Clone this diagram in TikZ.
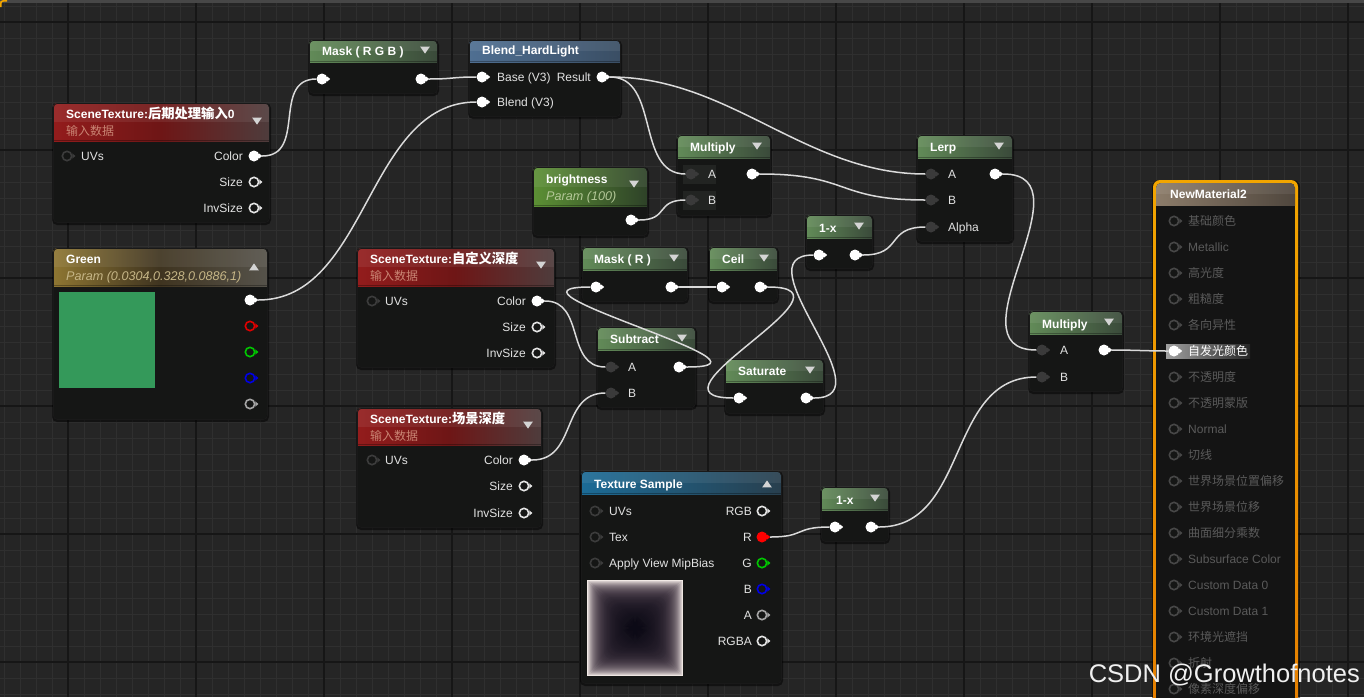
\documentclass[tikz,border=0pt]{standalone}
\usepackage{fontspec}
\setmainfont{Liberation Sans}
\newfontfamily\cjk{Noto Sans CJK SC}
\usetikzlibrary{calc}
\definecolor{bgc}{HTML}{252525}
\definecolor{gminor}{HTML}{2F2F2F}
\definecolor{gmajor}{HTML}{161616}
\definecolor{bodyc}{HTML}{151615}
\definecolor{nmbody}{HTML}{141414}
\definecolor{wirec}{HTML}{DADADA}
\definecolor{lblc}{HTML}{E2E2E2}
\definecolor{tric}{HTML}{D4D4D4}
\definecolor{grnL}{HTML}{628B58}
\definecolor{grnR}{HTML}{3A4A3A}
\definecolor{brL}{HTML}{5C9034}
\definecolor{brR}{HTML}{2E4228}
\definecolor{redL}{HTML}{931C1C}
\definecolor{redM}{HTML}{6E1616}
\definecolor{redR}{HTML}{4E3C3C}
\definecolor{goldL}{HTML}{8E7632}
\definecolor{goldM}{HTML}{3F3420}
\definecolor{goldR}{HTML}{55524A}
\definecolor{bluL}{HTML}{4F6F92}
\definecolor{bluR}{HTML}{3A4E64}
\definecolor{texL}{HTML}{1C6B96}
\definecolor{texR}{HTML}{283F4E}
\definecolor{nmL}{HTML}{8C7C6A}
\definecolor{nmR}{HTML}{4F463D}
\definecolor{subRed}{HTML}{C98473}
\definecolor{subGold}{HTML}{C6B687}
\definecolor{subGrn}{HTML}{B4C898}
\definecolor{dimc}{HTML}{5A5A5A}
\definecolor{dimpin}{HTML}{474747}
\definecolor{inpin}{HTML}{3C3C3C}
\definecolor{cpin}{HTML}{3A3A3A}
\definecolor{pinwhite}{HTML}{E4E4E4}
\definecolor{pinred}{HTML}{E00000}
\definecolor{pingreen}{HTML}{00C800}
\definecolor{pinblue}{HTML}{0000E6}
\definecolor{pingrey}{HTML}{A6A6A6}
\definecolor{orT}{HTML}{F2A500}
\definecolor{orB}{HTML}{E47C00}
\definecolor{swatch}{HTML}{34995A}
\definecolor{texlight}{HTML}{F2EAE6}
\definecolor{texmid}{HTML}{6E5666}
\definecolor{texdark}{HTML}{04040F}
\definecolor{hlL}{HTML}{A0A0A0}
\definecolor{hlR}{HTML}{262626}
\definecolor{rowhl}{HTML}{222422}
\newcommand{\cjkt}[1]{{\cjk\fontsize{13.3}{15}\selectfont #1}}
\tikzset{
  wire/.style={draw=wirec, line width=1.5pt},
  ttl/.style={anchor=base west, inner sep=0, text=white, font=\bfseries\fontsize{12}{14}\selectfont, yshift=-4.3pt},
  lbl/.style={anchor=base west, inner sep=0, text=lblc, font=\fontsize{12}{14}\selectfont, yshift=-4.3pt},
  lblr/.style={lbl, anchor=base east},
  subi/.style={anchor=base west, inner sep=0, font=\itshape\fontsize{12.6}{14}\selectfont, yshift=-4.3pt},
  subr/.style={anchor=base west, inner sep=0, text=subRed, font=\fontsize{12}{14}\selectfont, yshift=-4.3pt},
  pinf/.style={circle, inner sep=0, minimum size=11pt},
  pinr/.style={circle, inner sep=0, minimum size=9.4pt, line width=1.6pt, fill=bodyc},
  nodebox/.style={draw=black!90, line width=0.8pt, rounded corners=4pt, inner sep=0},
}
\newcommand{\ueNode}[7]{%
  \fill[black,opacity=.5,rounded corners=5pt] (#2-1,#3) rectangle (#4+2,#5+3);
  \begin{scope}
    \clip[rounded corners=4pt] (#2,#3) rectangle (#4,#5);
    \fill[bodyc] (#2,#3) rectangle (#4,#5);
    \shade[#7] (#2,#3) rectangle (#4,#6);
    \fill[white,opacity=.07] (#2,#3) rectangle (#4,{(#3+#6)/2});
    \fill[black,opacity=.3] (#2,#6-1) rectangle (#4,#6);
  \end{scope}
  \node[nodebox, anchor=north west, minimum width={(#4-#2)*1pt}, minimum height={(#5-#3)*1pt}] (#1) at (#2,#3) {};
}
\newcommand{\uePinF}[4]{%
  \node[pinf, fill=#4] (#1) at (#2,#3) {};
  \fill[#4] (#2+5,#3-2.6) -- (#2+8.2,#3) -- (#2+5,#3+2.6) -- cycle;}
\newcommand{\uePinR}[4]{%
  \node[pinr, draw=#4] (#1) at (#2,#3) {};
  \fill[#4] (#2+5.4,#3-2.6) -- (#2+8.4,#3) -- (#2+5.4,#3+2.6) -- cycle;}
\newcommand{\ueTriD}[2]{\fill[tric] (#1-4.8,#2-3.3) -- (#1+4.8,#2-3.3) -- (#1,#2+3.6) -- cycle;}
\newcommand{\ueTriU}[2]{\fill[tric] (#1-4.8,#2+3.3) -- (#1+4.8,#2+3.3) -- (#1,#2-3.6) -- cycle;}
\newcommand{\ueWire}[3]{\draw[wire] ([xshift=2.5pt]#1.east) .. controls +(#3,0) and +(-#3,0) .. (#2.west);}
\begin{document}
\begin{tikzpicture}[x=1pt,y=-1pt]
\useasboundingbox (0,0) rectangle (1364,697);
\clip (0,0) rectangle (1364,697);
% background grid
\fill[bgc] (0,0) rectangle (1364,697);
\foreach \x in {4,20,...,1364} \draw[gminor, line width=1pt] (\x,0) -- (\x,697);
\foreach \y in {6,22,...,697} \draw[gminor, line width=1pt] (0,\y) -- (1364,\y);
\foreach \x in {68,196,...,1364} \draw[gmajor, line width=2pt] (\x,0) -- (\x,697);
\foreach \y in {22,150,...,697} \draw[gmajor, line width=2pt] (0,\y) -- (1364,\y);
\fill[black!72] (0,0) rectangle (1364,3);
\draw[orT, line width=1.6pt] (0.8,7) -- (0.8,4) .. controls (0.8,1.5) .. (3.5,0.8) -- (7,0.8);

% ---- SceneTexture: post process input 0
\ueNode{st1}{53}{103}{269}{222}{141}{left color=redL, right color=redR, middle color=redM}
\node[ttl] (st1t) at (66,114) {SceneTexture:\cjkt{后期处理输入}0};
\node[subr] (st1st) at (66,131) {{\cjk 输入数据}};
\ueTriD{257}{121}
\uePinR{st1uv}{67}{156}{inpin}
\node[lbl] (st1l1) at (81,156) {UVs};
\uePinF{st1c}{254}{156}{white}
\node[lblr] (st1l2) at (243,156) {Color};
\uePinR{st1s}{254}{182}{pinwhite}
\node[lblr] (st1l3) at (243,182) {Size};
\uePinR{st1i}{254}{208}{pinwhite}
\node[lblr] (st1l4) at (243,208) {InvSize};

% ---- Mask (RGB)
\ueNode{mrgb}{309}{40}{437}{93}{62}{left color=grnL, right color=grnR}
\node[ttl] (mrgbt) at (322,51) {Mask ( R G B )};
\ueTriD{425}{50}
\uePinF{mrgbi}{322}{79}{white}
\uePinF{mrgbo}{421}{79}{white}

% ---- Blend_HardLight
\ueNode{blend}{469}{40}{620}{116}{62}{left color=bluL, right color=bluR}
\node[ttl] (blendt) at (482,50) {Blend\_HardLight};
\uePinF{blb}{482}{77}{white}
\node[lbl] (blendl1) at (497,77) {Base (V3)};
\uePinF{blr}{602}{77}{white}
\node[lblr] (blendl2) at (591,77) {Result};
\uePinF{blbl}{482}{102}{white}
\node[lbl] (blendl3) at (497,102) {Blend (V3)};

% ---- Green parameter
\ueNode{green}{53}{248}{267}{419}{286}{left color=goldL, right color=goldR, middle color=goldM}
\node[ttl] (greent) at (66,259) {Green};
\node[subi, text=subGold] (greenst) at (66,276) {Param (0.0304,0.328,0.0886,1)};
\ueTriU{254}{267}
\fill[swatch] (59,292) rectangle (155,388);
\uePinF{gw}{250}{300}{white}
\uePinR{gr}{250}{326}{pinred}
\uePinR{gg}{250}{352}{pingreen}
\uePinR{gb}{250}{378}{pinblue}
\uePinR{ga}{250}{404}{pingrey}

% ---- brightness
\ueNode{bright}{533}{167}{647}{235}{206}{left color=brL, right color=brR}
\node[ttl] (brightt) at (546,179) {brightness};
\node[subi, text=subGrn] (brightst) at (546,196) {Param (100)};
\ueTriD{634}{184}
\uePinF{bro}{631}{220}{white}

% ---- Multiply (top)
\ueNode{mul1}{677}{135}{770}{215}{158}{left color=grnL, right color=grnR}
\node[ttl] (mul1t) at (690,147) {Multiply};
\ueTriD{757}{146}
\fill[rowhl] (683,165) rectangle (716,184);
\fill[rowhl] (683,191) rectangle (716,210);
\uePinF{m1a}{691}{174}{cpin}
\node[lbl] (mul1l1) at (708,174) {A};
\uePinF{m1b}{691}{200}{cpin}
\node[lbl] (mul1l2) at (708,200) {B};
\uePinF{m1o}{752}{174}{white}

% ---- Lerp
\ueNode{lerp}{917}{135}{1012}{241}{158}{left color=grnL, right color=grnR}
\node[ttl] (lerpt) at (930,147) {Lerp};
\ueTriD{999}{146}
\uePinF{lerpa}{931}{174}{cpin}
\node[lbl] (lerpl1) at (948,174) {A};
\uePinF{lerpb}{931}{200}{cpin}
\node[lbl] (lerpl2) at (948,200) {B};
\uePinF{lerpal}{931}{227}{cpin}
\node[lbl] (lerpl3) at (948,227) {Alpha};
\uePinF{lerpo}{995}{174}{white}

% ---- 1-x (top)
\ueNode{onex1}{806}{215}{872}{268}{238}{left color=grnL, right color=grnR}
\node[ttl] (onex1t) at (819,228) {1-x};
\ueTriD{859}{226}
\uePinF{o1i}{819}{255}{white}
\uePinF{o1o}{855}{255}{white}

% ---- SceneTexture: custom depth
\ueNode{stc}{357}{248}{554}{367}{286}{left color=redL, right color=redR, middle color=redM}
\node[ttl] (stct) at (370,259) {SceneTexture:\cjkt{自定义深度}};
\node[subr] (stcst) at (370,276) {{\cjk 输入数据}};
\ueTriD{541}{265}
\uePinR{stcuv}{372}{301}{inpin}
\node[lbl] (stcl1) at (385,301) {UVs};
\uePinF{stcc}{537}{301}{white}
\node[lblr] (stcl2) at (526,301) {Color};
\uePinR{stcs}{537}{327}{pinwhite}
\node[lblr] (stcl3) at (526,327) {Size};
\uePinR{stci}{537}{353}{pinwhite}
\node[lblr] (stcl4) at (526,353) {InvSize};

% ---- Mask (R)
\ueNode{maskr}{582}{247}{687}{301}{270}{left color=grnL, right color=grnR}
\node[ttl] (maskrt) at (594,259) {Mask ( R )};
\ueTriD{674}{258}
\uePinF{mri}{596}{287}{white}
\uePinF{mro}{671}{287}{white}

% ---- Ceil
\ueNode{ceil}{709}{247}{777}{301}{270}{left color=grnL, right color=grnR}
\node[ttl] (ceilt) at (722,259) {Ceil};
\ueTriD{764}{258}
\uePinF{ci}{722}{287}{white}
\uePinF{co}{760}{287}{white}

% ---- Subtract
\ueNode{sub}{597}{327}{695}{407}{350}{left color=grnL, right color=grnR}
\node[ttl] (subt) at (610,339) {Subtract};
\ueTriD{682}{338}
\uePinF{suba}{611}{367}{cpin}
\node[lbl] (subl1) at (628,367) {A};
\uePinF{subb}{611}{393}{cpin}
\node[lbl] (subl2) at (628,393) {B};
\uePinF{subo}{679}{367}{white}

% ---- Saturate
\ueNode{sat}{725}{359}{823}{413}{382}{left color=grnL, right color=grnR}
\node[ttl] (satt) at (738,371) {Saturate};
\ueTriD{810}{370}
\uePinF{sati}{739}{398}{white}
\uePinF{sato}{806}{398}{white}

% ---- SceneTexture: scene depth
\ueNode{std}{357}{408}{541}{527}{445}{left color=redL, right color=redR, middle color=redM}
\node[ttl] (stdt) at (370,419) {SceneTexture:\cjkt{场景深度}};
\node[subr] (stdst) at (370,436) {{\cjk 输入数据}};
\ueTriD{528}{425}
\uePinR{stduv}{372}{460}{inpin}
\node[lbl] (stdl1) at (385,460) {UVs};
\uePinF{stdc}{524}{460}{white}
\node[lblr] (stdl2) at (513,460) {Color};
\uePinR{stds}{524}{486}{pinwhite}
\node[lblr] (stdl3) at (513,486) {Size};
\uePinR{stdi}{524}{513}{pinwhite}
\node[lblr] (stdl4) at (513,513) {InvSize};

% ---- Texture Sample
\ueNode{tex}{581}{471}{781}{683}{494}{left color=texL, right color=texR}
\node[ttl] (text) at (594,484) {Texture Sample};
\ueTriU{767}{484}
\uePinR{tuv}{595}{511}{inpin}
\node[lbl] (texl1) at (609,511) {UVs};
\uePinR{ttex}{595}{537}{inpin}
\node[lbl] (texl2) at (609,537) {Tex};
\uePinR{tmip}{595}{563}{inpin}
\node[lbl] (texl3) at (609,563) {Apply View MipBias};
\uePinR{trgb}{762}{511}{pinwhite}
\node[lblr] (texl4) at (752,511) {RGB};
\uePinF{tr}{762}{537}{red}
\node[lblr] (texl5) at (752,537) {R};
\uePinR{tg}{762}{563}{pingreen}
\node[lblr] (texl6) at (752,563) {G};
\uePinR{tb}{762}{589}{pinblue}
\node[lblr] (texl7) at (752,589) {B};
\uePinR{ta}{762}{615}{pingrey}
\node[lblr] (texl8) at (752,615) {A};
\uePinR{trgba}{762}{641}{pinwhite}
\node[lblr] (texl9) at (752,641) {RGBA};
\fill[texlight] (587,580) rectangle (683,676);
\foreach \i in {1,...,46} {
  \pgfmathtruncatemacro\L{100*exp(-\i/8.5)}
  \pgfmathtruncatemacro\M{100*exp(-\i/19)}
  \pgfmathsetmacro\rc{min(\i*0.45,14)}
  \fill[texlight!\L!texmid!\M!texdark, rounded corners=\rc pt] (587+\i,580+\i) rectangle (683-\i,676-\i);
}

% ---- 1-x (bottom)
\ueNode{onex2}{821}{487}{888}{541}{510}{left color=grnL, right color=grnR}
\node[ttl] (onex2t) at (836,500) {1-x};
\ueTriD{875}{498}
\uePinF{o2i}{835}{527}{white}
\uePinF{o2o}{871}{527}{white}

% ---- Multiply (right)
\ueNode{mul2}{1029}{311}{1122}{391}{334}{left color=grnL, right color=grnR}
\node[ttl] (mul2t) at (1042,324) {Multiply};
\ueTriD{1109}{322}
\uePinF{m2a}{1042}{350}{cpin}
\node[lbl] (mul2l1) at (1060,350) {A};
\uePinF{m2b}{1042}{377}{cpin}
\node[lbl] (mul2l2) at (1060,377) {B};
\uePinF{m2o}{1104}{350}{white}

% ---- NewMaterial2
\fill[black,opacity=.5,rounded corners=7pt] (1152,180) rectangle (1300,745);
\shade[top color=orT, bottom color=orB, rounded corners=7pt] (1153,180) rectangle (1298,740);
\begin{scope}
  \clip[rounded corners=5pt] (1156,183) rectangle (1295,737);
  \fill[nmbody] (1156,183) rectangle (1295,737);
  \shade[left color=nmL, right color=nmR] (1156,183) rectangle (1295,205);
  \fill[white,opacity=.07] (1156,183) rectangle (1295,194);
\end{scope}
\node[anchor=north west, inner sep=0, minimum width=145pt, minimum height=560pt] (nm) at (1153,180) {};
\node[ttl] (nmt) at (1170,194) {NewMaterial2};
\foreach \k/\t in {0/{\cjk 基础颜色},1/Metallic,2/{\cjk 高光度},3/{\cjk 粗糙度},4/{\cjk 各向异性},6/{\cjk 不透明度},7/{\cjk 不透明蒙版},8/Normal,9/{\cjk 切线},10/{\cjk 世界场景位置偏移},11/{\cjk 世界场景位移},12/{\cjk 曲面细分乘数},13/Subsurface Color,14/Custom Data 0,15/Custom Data 1,16/{\cjk 环境光遮挡},17/{\cjk 折射},18/{\cjk 像素深度偏移}} {
  \pgfmathsetmacro\yy{221+26*\k}
  \uePinR{nmp\k}{1174}{\yy}{dimpin}
  \node[lbl, text=dimc] (nml\k) at (1188,\yy) {\t};
}
\shade[left color=hlL, right color=hlR] (1166,344) rectangle (1250,358);
\uePinF{nme}{1174}{351}{white}
\node[lbl, text=white] (nmle) at (1188,351) {{\cjk 自发光颜色}};

% ---- wires
\ueWire{st1c}{mrgbi}{45}
\ueWire{mrgbo}{blb}{25}
\ueWire{gw}{blbl}{110}
\ueWire{blr}{m1a}{50}
\ueWire{blr}{lerpa}{120}
\ueWire{bro}{m1b}{30}
\ueWire{m1o}{lerpb}{90}
\ueWire{stcc}{suba}{40}
\ueWire{subo}{mri}{110}
\ueWire{mro}{ci}{15}
\ueWire{co}{sati}{100}
\ueWire{sato}{o1i}{75}
\ueWire{o1o}{lerpal}{40}
\ueWire{lerpo}{m2a}{90}
\ueWire{stdc}{subb}{45}
\ueWire{tr}{o2i}{35}
\ueWire{o2o}{m2b}{90}
\ueWire{m2o}{nme}{20}

% ---- watermark
\node[anchor=base east, inner sep=0, text=white!94!black, font=\fontsize{25.5}{30}\selectfont] (wm) at (1360,682) {CSDN @Growthofnotes};
\end{tikzpicture}
\end{document}
